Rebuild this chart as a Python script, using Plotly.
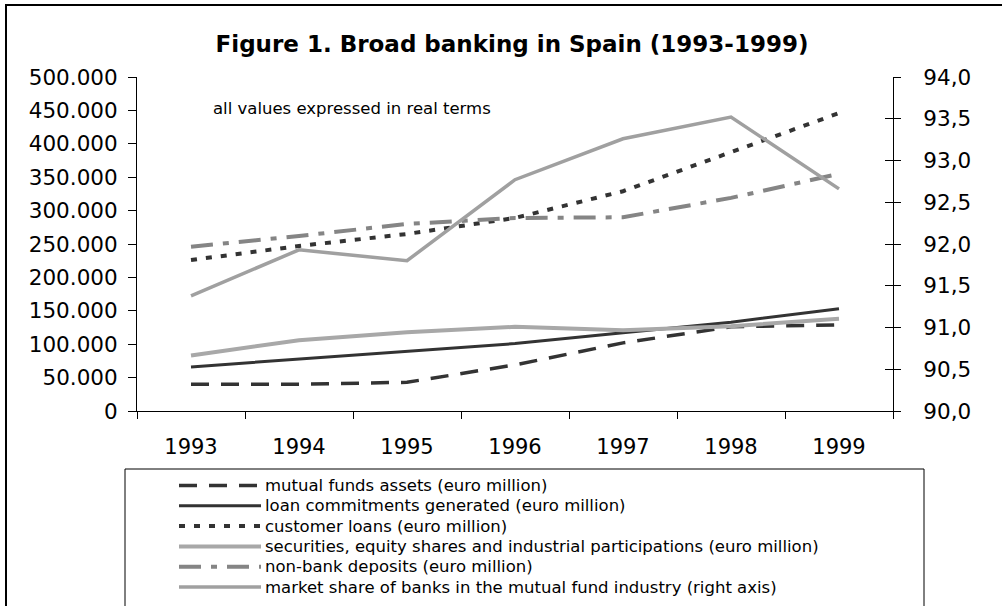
import plotly.graph_objects as go

years = ["1993", "1994", "1995", "1996", "1997", "1998", "1999"]
mutual_funds = [40000, 40000, 43000, 69000, 102000, 126000, 129000]
loan_commitments = [66000, 78000, 90000, 101000, 117000, 133000, 153000]
customer_loans = [226000, 247000, 265000, 289000, 329000, 388000, 446000]
securities = [83000, 106000, 118000, 126000, 121000, 127000, 138000]
non_bank_deposits = [246000, 262000, 280000, 289000, 290000, 319000, 355000]
market_share = [91.38, 91.93, 91.80, 92.77, 93.26, 93.52, 92.66]

left_ticks = list(range(0, 500001, 50000))
left_labels = ["0"] + [f"{v // 1000}.000" for v in left_ticks[1:]]
right_ticks = [90.0, 90.5, 91.0, 91.5, 92.0, 92.5, 93.0, 93.5, 94.0]
right_labels = [f"{v:.1f}".replace(".", ",") for v in right_ticks]

names = [
    "mutual funds assets (euro million)",
    "loan commitments generated (euro million)",
    "customer loans (euro million)",
    "securities, equity shares and industrial participations (euro million)",
    "non-bank deposits (euro million)",
    "market share of banks in the mutual fund industry (right axis)",
]
series = [mutual_funds, loan_commitments, customer_loans, securities,
          non_bank_deposits, market_share]
styles = [
    dict(color="#333333", width=3.5, dash="18px,12px"),
    dict(color="#333333", width=3),
    dict(color="#333333", width=4, dash="6px,9px"),
    dict(color="#a8a8a8", width=4),
    dict(color="#858585", width=4, dash="22px,10px,6px,10px"),
    dict(color="#a0a0a0", width=3.5),
]
axes = ["y", "y", "y", "y", "y", "y2"]

FONT = "DejaVu Sans, Liberation Sans, Arial, sans-serif"
W, H = 1002, 606
L, R, T, B = 137, 893, 77, 411
pw, ph = R - L, B - T


def px_x(p):  # page pixel -> paper fraction
    return (p - L) / pw


def px_y(p):
    return (B - p) / ph


fig = go.Figure()
for nm, vals, st, ax in zip(names, series, styles, axes):
    fig.add_trace(go.Scatter(x=years, y=vals, name=nm, mode="lines", yaxis=ax,
                             line=st, showlegend=False, hoverinfo="x+y+name"))
# invisible helper so that the inward ticks of the right axis are drawn
fig.add_trace(go.Scatter(x=years, y=market_share, yaxis="y3", mode="lines",
                         line=dict(width=0), opacity=0, showlegend=False,
                         hoverinfo="skip"))

shapes = [
    dict(type="rect", xref="paper", yref="paper", x0=px_x(6), x1=px_x(1040),
         y0=px_y(660), y1=px_y(5), line=dict(color="black", width=2),
         fillcolor="rgba(0,0,0,0)", layer="below"),
    dict(type="rect", xref="paper", yref="paper", x0=px_x(125), x1=px_x(924),
         y0=px_y(660), y1=px_y(469), line=dict(color="black", width=1),
         fillcolor="rgba(0,0,0,0)", layer="below"),
]
annotations = [dict(text="all values expressed in real terms", xref="paper", yref="paper",
                    x=px_x(211), y=px_y(108), xanchor="left", yanchor="middle",
                    showarrow=False, font=dict(size=16.5, family=FONT, color="black"))]
row0, row_step = 485.5, 20.3
for i, (nm, st) in enumerate(zip(names, styles)):
    ry = px_y(row0 + i * row_step)
    shapes.append(dict(type="line", xref="paper", yref="paper", x0=px_x(179), x1=px_x(261),
                       y0=ry, y1=ry, line=st))
    annotations.append(dict(text=nm, xref="paper", yref="paper", x=px_x(263), y=ry,
                            xanchor="left", yanchor="middle", showarrow=False,
                            font=dict(size=16.5, family=FONT, color="black")))

fig.update_layout(
    width=W, height=H,
    margin=dict(l=L, r=W - R, t=T, b=H - B, autoexpand=False),
    paper_bgcolor="white", plot_bgcolor="white",
    font=dict(family=FONT, color="black", size=21),
    title=dict(text="<b>Figure 1. Broad banking in Spain (1993-1999)</b>",
               x=512 / W, xanchor="center", y=1 - 44 / H, yanchor="middle",
               font=dict(size=23, family=FONT, color="black")),
    xaxis=dict(type="category", categoryorder="array", categoryarray=years,
               range=[-0.5, 6.5], showline=True, linecolor="black", linewidth=1,
               ticks="outside", tickson="boundaries", ticklen=7, tickcolor="black",
               showgrid=False, zeroline=False, ticklabelstandoff=17, automargin=False,
               tickfont=dict(size=21)),
    yaxis=dict(range=[0, 500000], tickvals=left_ticks, ticktext=left_labels,
               showline=True, linecolor="black", linewidth=1, ticks="outside",
               ticklen=8, tickcolor="black", showgrid=False, zeroline=False,
               ticklabelstandoff=6, automargin=False, tickfont=dict(size=21.5)),
    yaxis2=dict(range=[90, 94], tickvals=right_ticks, ticktext=right_labels,
                overlaying="y", side="right", anchor="x", showline=True,
                linecolor="black", linewidth=1, ticks="outside", ticklen=7,
                tickcolor="black", showgrid=False, zeroline=False, automargin=False,
                ticklabelstandoff=18, tickfont=dict(size=21.5)),
    yaxis3=dict(range=[90, 94], tickvals=right_ticks, overlaying="y", side="right",
                anchor="x", showline=False, ticks="inside", ticklen=8, automargin=False,
                tickcolor="black", showticklabels=False, showgrid=False, zeroline=False),
    showlegend=False,
    annotations=annotations,
    shapes=shapes,
)

fig.write_html("out.html", config={"displayModeBar": False},
               post_script="document.body.style.margin='0';document.body.style.overflow='hidden';")
